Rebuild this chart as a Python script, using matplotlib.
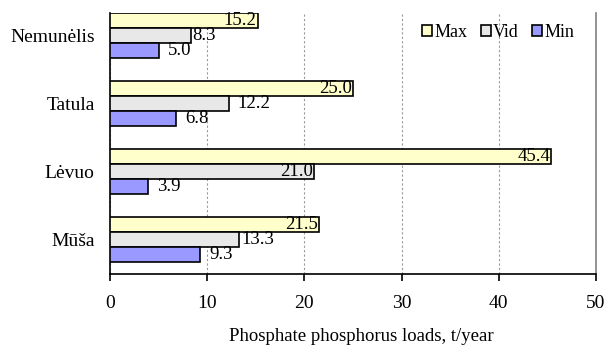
import numpy as np
import matplotlib
matplotlib.use("Agg")
import matplotlib.pyplot as plt

# Rivers, listed bottom to top as drawn
rivers = ["Mūša", "Lėvuo", "Tatula", "Nemunėlis"]
max_loads = [21.5, 45.4, 25.0, 15.2]
vid_loads = [13.3, 21.0, 12.2, 8.3]
min_loads = [9.3, 3.9, 6.8, 5.0]

plt.rcParams['font.family'] = ['Liberation Serif', 'DejaVu Serif']
plt.rcParams['font.size'] = 13

fig = plt.figure(figsize=(6.05, 3.45), dpi=100)
ax = fig.add_axes([0.1818, 0.2058, 0.8033, 0.7565])

y = np.arange(len(rivers))
h = 0.22

series = [
    ("Max", max_loads, "#FFFFCC", h),
    ("Vid", vid_loads, "#E8E8E8", 0),
    ("Min", min_loads, "#9999FF", -h),
]

# label placement per series: (inside?, pixel offset) for each river
label_pos = {
    "Max": [(True, -1)] * 4,
    "Vid": [(False, 2), (True, -1), (False, 9), (False, 2)],
    "Min": [(False, 9)] * 4,
}

for name, vals, color, dy in series:
    ax.barh(y + dy, vals, height=h, color=color, edgecolor="black",
            linewidth=1.2, label=name, zorder=3)
    for i, v in enumerate(vals):
        inside, off = label_pos[name][i]
        ax.annotate(f"{v:.1f}", xy=(v, y[i] + dy), xytext=(off, 0),
                    textcoords="offset pixels",
                    ha="right" if inside else "left", va="center",
                    fontsize=13.5, zorder=4)

ax.set_xlim(0, 50)
ax.set_ylim(-0.507, 3.33)
ax.set_xticks([0, 10, 20, 30, 40, 50])
ax.set_yticks(y)
ax.set_yticklabels(rivers)
ax.tick_params(axis="y", length=0, pad=11, labelsize=14)
ax.tick_params(axis="x", length=5, width=1.2, pad=10, labelsize=14,
               direction="out")
ax.xaxis.grid(True, color="#999999", linestyle=(0, (2, 2)), linewidth=0.8)
ax.set_axisbelow(True)

ax.spines["top"].set_visible(False)
ax.spines["right"].set_color("#808080")
ax.spines["right"].set_linewidth(1.2)
ax.spines["left"].set_linewidth(1.2)
ax.spines["bottom"].set_linewidth(1.2)

ax.set_xlabel("Phosphate phosphorus loads, t/year", fontsize=13.5)
ax.xaxis.set_label_coords(0.518, -0.205)

leg = ax.legend(loc="upper right", ncol=3, frameon=False, fontsize=13,
                handlelength=0.55, handleheight=0.55, handletextpad=0.15,
                columnspacing=0.7, bbox_to_anchor=(0.97, 0.985),
                borderaxespad=0)

fig.savefig("out.png", dpi=100)
